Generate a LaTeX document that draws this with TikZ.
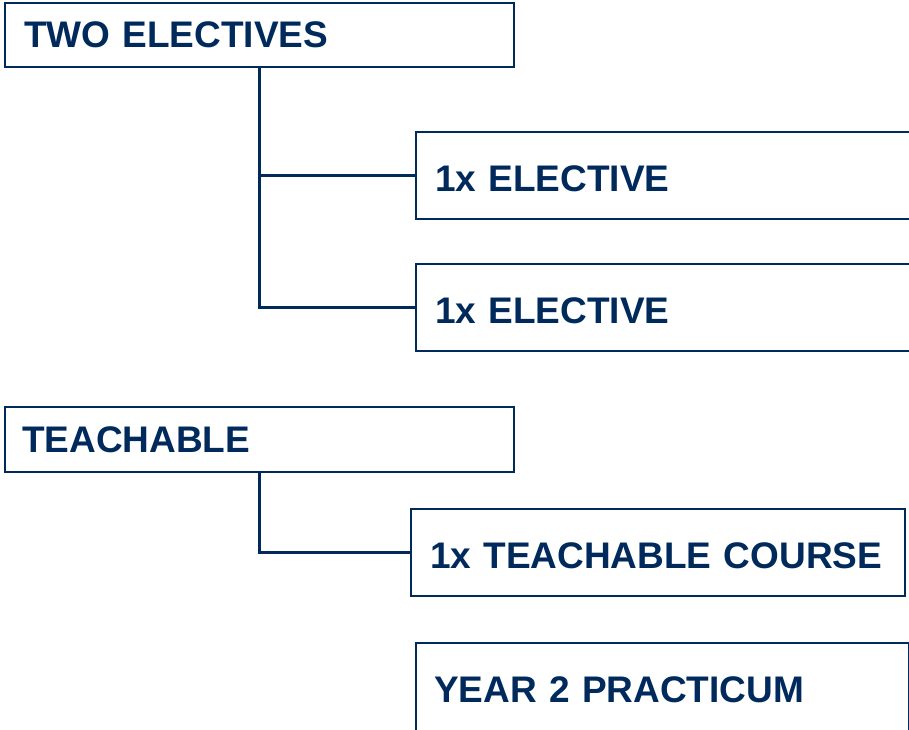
\documentclass[tikz,border=0pt]{standalone}
\usepackage{fontspec}
\setmainfont{Liberation Sans}
\definecolor{navy}{RGB}{0,42,92}
\begin{document}
\begin{tikzpicture}[x=1pt,y=-1pt,
  box/.style={draw=navy, line width=2.5pt, rectangle, anchor=north west,
    outer sep=0pt, inner xsep=19pt, inner ysep=0pt, align=left,
    text height=24pt, text depth=0pt,
    text=navy, font=\fontsize{37}{40}\selectfont\bfseries},
  tallbox/.style={box, text height=31pt, minimum height=87pt},
  link/.style={draw=navy, line width=2.5pt}]
\useasboundingbox (0,0) rectangle (909,729);
% elective branch
\node[box, text width=471pt, minimum height=64pt] (two) at (5,3) {TWO ELECTIVES};
\node[tallbox, text width=456pt] (el1) at (416,132) {1x ELECTIVE};
\node[tallbox, text width=456pt] (el2) at (416,264) {1x ELECTIVE};
\draw[link] (two.south) |- (el1.west);
\draw[link] (two.south) |- (el2.west);
% teachable branch
\node[box, text width=475pt, minimum height=65pt, inner xsep=17pt, text height=25pt] (teach) at (5,407) {TEACHABLE};
\node[tallbox, text width=456pt] (tcourse) at (411,509) {1x TEACHABLE COURSE};
\draw[link] (teach.south) |- (tcourse.west);
% practicum
\node[box, text width=457pt, minimum height=92pt, inner xsep=18pt, text height=26pt] (prac) at (416,643) {YEAR 2 PRACTICUM};
\end{tikzpicture}
\end{document}
